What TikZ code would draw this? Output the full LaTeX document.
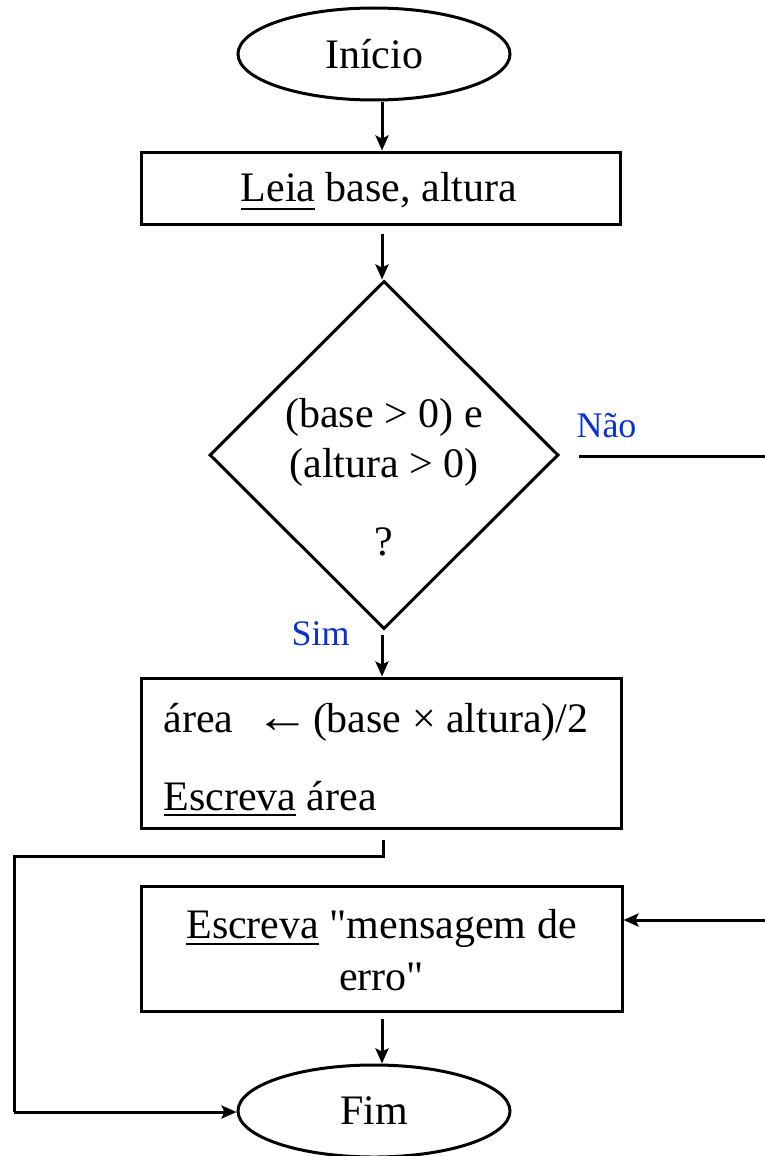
\documentclass[tikz,border=0pt]{standalone}
\usepackage{fontspec}
\setmainfont{Liberation Serif}[Ligatures=TeXOff]
\usetikzlibrary{shapes.geometric,arrows.meta}
\definecolor{lblblue}{RGB}{10,50,210}
\newcommand\myul[2][8]{\setbox0\hbox{#2}\rlap{\rule[-#1pt]{\wd0}{2pt}}\box0\relax}
\begin{document}
\begin{tikzpicture}[x=1pt,y=-1pt,
  line width=3pt,
  every node/.style={font=\fontsize{42}{52}\selectfont, inner sep=0pt},
  term/.style={draw, ellipse, minimum width=272pt, minimum height=92pt},
  procbox/.style={draw, rectangle},
  decbox/.style={draw, diamond, minimum width=349pt, minimum height=348pt},
  lbl/.style={text=lblblue, font=\fontsize{36}{40}\selectfont},
  conn/.style={-{Stealth[length=15pt,width=13pt,inset=3pt]}}]
\useasboundingbox (0,0) rectangle (765,1156);
\coordinate (ax) at (382,0);
% nodes
\node[term] (inicio) at (374,54) {Início};
\node[procbox, minimum width=479pt, minimum height=72pt] (leia) at (380.5,188) {};
\node[anchor=base] (leiat) at (379,201) {\myul[9]{Leia} base, altura};
\node[decbox] (dec) at (384,455) {};
\node[anchor=base] (d1) at (384,427) {(base > 0) e};
\node[anchor=base] (d2) at (384,477) {(altura > 0)};
\node[anchor=base] (d3) at (384,555) {?};
\node[lbl, anchor=base west] (nao) at (575,437) {Não};
\node[lbl, anchor=base west] (sim) at (290,645) {Sim};
\node[procbox, minimum width=480pt, minimum height=150pt] (area) at (381,753) {};
\node[anchor=base west] (a1) at (162,732) {área\hspace{22pt}\scalebox{1.3}[1.1]{←}\hspace{3pt}(base × altura)/2};
\node[anchor=base west] (a2) at (162,810) {\myul[6]{Escreva} área};
\node[procbox, minimum width=481pt, minimum height=125pt] (erro) at (381.5,949) {};
\node[anchor=base] (e1) at (381.5,938) {\myul[7]{Escreva} "mensagem de};
\node[anchor=base] (e2) at (381.5,990) {erro"};
\node[term] (fim) at (374,1111) {Fim};
% helper coordinates
\coordinate (r1) at (767,456);
\coordinate (r2) at (767,920);
\coordinate (m1) at (383,856);
\coordinate (l1) at (14,856);
\coordinate (l2) at (14,1112);
% connectors
\draw[conn] (inicio.south -| ax) -- (leia.north -| ax);
\draw[conn, shorten <=8pt] (leia.south -| ax) -- (dec.north -| ax);
\draw[conn, shorten <=4pt] (dec.south -| ax) -- (area.north -| ax);
\draw[shorten <=19pt] (dec.east |- r1) -- (r1) -- (r2);
\draw[conn] (r2) -- (r2 -| erro.east);
\draw[shorten <=10pt] (area.south -| m1) -- (m1) -- (l1) -- (l2);
\draw[conn] (l2) -- (l2 -| fim.west);
\draw[conn, shorten <=6pt] (erro.south -| ax) -- (fim.north -| ax);
\end{tikzpicture}
\end{document}
